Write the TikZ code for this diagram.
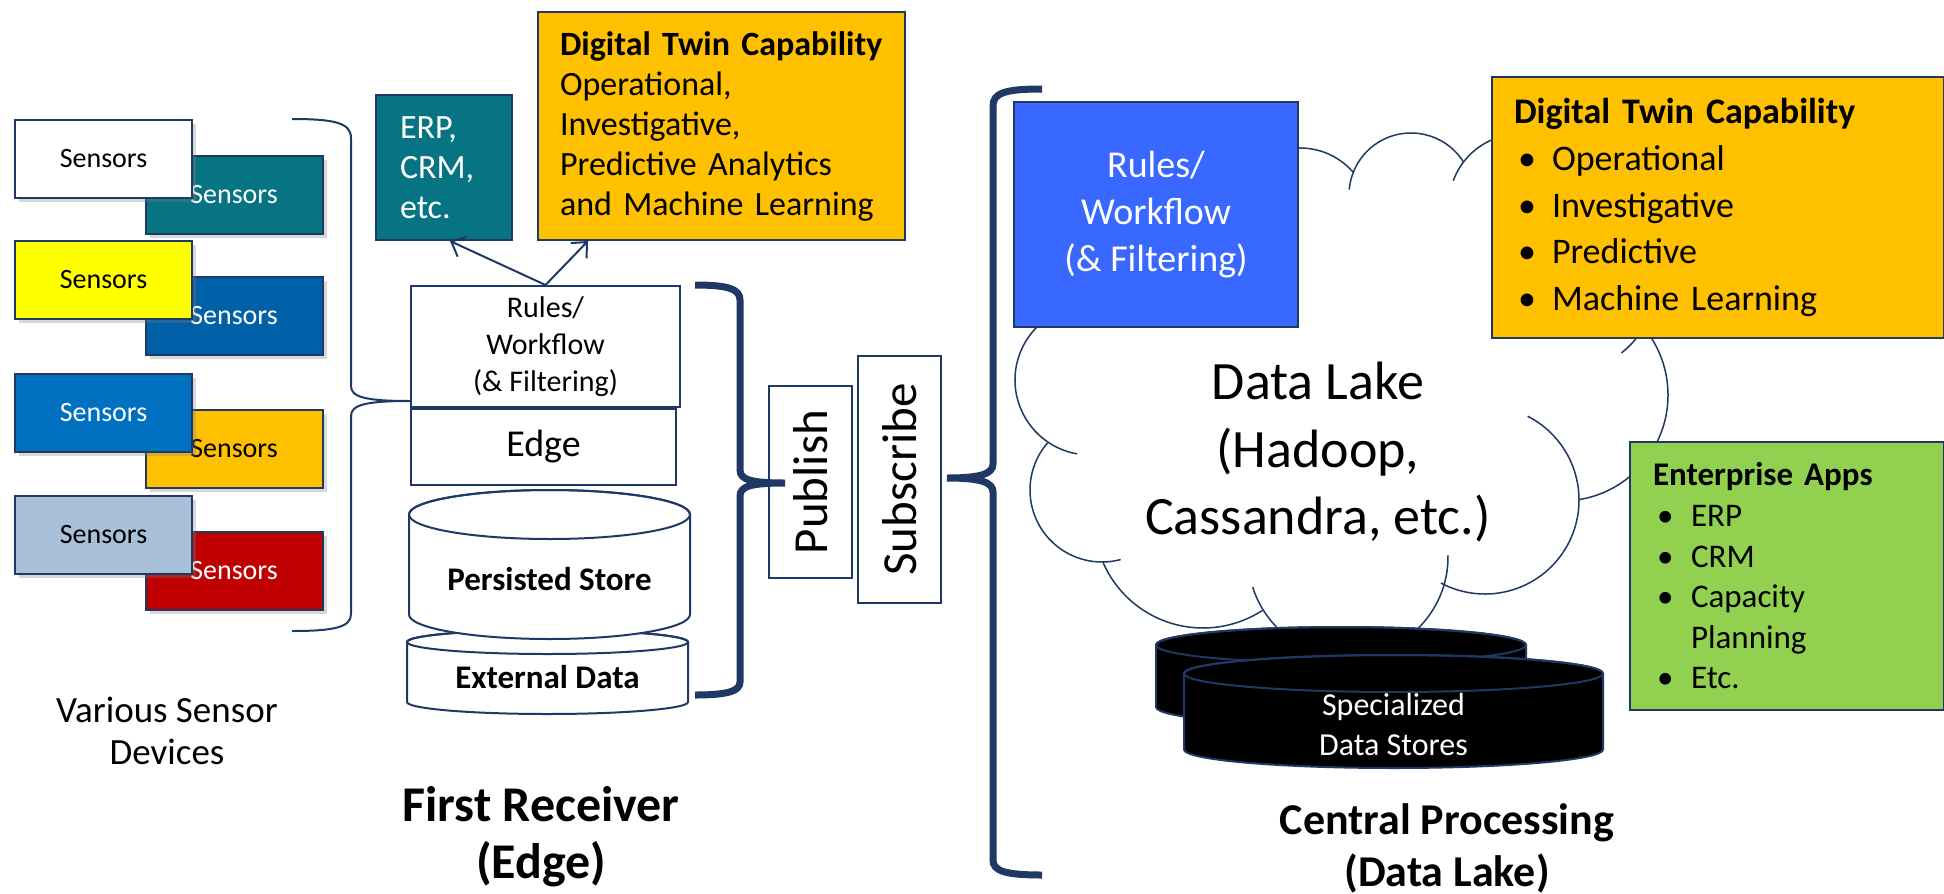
\documentclass[tikz,border=0pt]{standalone}
\usepackage{fontspec}
\setmainfont{Carlito}
\usetikzlibrary{arrows.meta,shadows}

\definecolor{navy}{HTML}{1F3864}
\definecolor{tealbox}{HTML}{077484}
\definecolor{dkblue}{HTML}{0060A8}
\definecolor{gold}{HTML}{FFC000}
\definecolor{darkred}{HTML}{C00000}
\definecolor{midblue}{HTML}{0070C0}
\definecolor{paleblue}{HTML}{A9C0D9}
\definecolor{brightyellow}{HTML}{FFFF00}
\definecolor{rulesblue}{HTML}{3868FF}
\definecolor{appgreen}{HTML}{92D050}

\newcommand{\fsz}[2]{\fontsize{#1}{#2}\selectfont}
\newcommand{\bulitem}{\hspace*{2pt}\makebox[17pt][l]{\textbullet}}

\tikzset{
  box/.style={draw=navy, line width=1pt, rectangle, inner sep=0pt},
  sensor/.style={box, minimum width=88.5pt, minimum height=39pt, font=\fsz{14}{16},
    drop shadow={shadow xshift=2pt, shadow yshift=-2pt, opacity=0.3}},
  infobox/.style={box, anchor=north west, align=left, inner xsep=#1},
  brace/.style={draw=navy, line width=#1},
  puff/.style={draw=navy, line width=0.75pt},
  store/.style={draw=navy, line width=1pt},
  caption/.style={align=center, inner sep=0pt},
}

\begin{document}
\begin{tikzpicture}[x=0.5pt, y=-0.5pt, >={Straight Barb[length=6pt,width=11pt]}]
  \fill[white] (0,0) rectangle (1944,894);
  \useasboundingbox (0,0) rectangle (1944,894);

  % sensor devices
  \node[sensor, fill=tealbox, text=white] (sb1) at (234,195) {Sensors};
  \node[sensor, fill=dkblue, text=white]  (sb2) at (234,316) {Sensors};
  \node[sensor, fill=gold]                (sb3) at (234,449) {Sensors};
  \node[sensor, fill=darkred, text=white] (sb4) at (234,571) {Sensors};
  \node[sensor, fill=white]               (sf1) at (103.5,159) {Sensors};
  \node[sensor, fill=brightyellow]        (sf2) at (103.5,280) {Sensors};
  \node[sensor, fill=midblue, text=white] (sf3) at (103.5,412.5) {Sensors};
  \node[sensor, fill=paleblue]            (sf4) at (103.5,535) {Sensors};

  \node[caption, font=\fsz{18.5}{21}] (devices) at (167,731) {Various Sensor\\Devices};

  % first receiver
  \node[box, minimum width=134.5pt, minimum height=60.5pt, align=center, font=\fsz{15}{18.5}]
    (rules) at (545.5,346.5) {Rules/\\Workflow\\(\& Filtering)};
  \node[box, minimum width=132.5pt, minimum height=38pt, font=\fsz{19}{22}] (edge) at (543.5,447) {Edge};

  \draw[store, fill=white] (407,642) -- (407,702)
    arc[start angle=180, end angle=0, x radius=140.5, y radius=12] -- (688,642)
    arc[start angle=0, end angle=-180, x radius=140.5, y radius=12] -- cycle;
  \draw[store] (547.5,642) ellipse[x radius=140.5, y radius=12];
  \draw[store, fill=white] (409,514.5) -- (409,614.5)
    arc[start angle=180, end angle=0, x radius=140.5, y radius=24.5] -- (690,514.5)
    arc[start angle=0, end angle=-180, x radius=140.5, y radius=24.5] -- cycle;
  \draw[store] (549.5,514.5) ellipse[x radius=140.5, y radius=24.5];
  \node[font=\bfseries\fsz{16.5}{20}] (persist) at (549.5,579) {Persisted Store};
  \node[font=\bfseries\fsz{16.5}{20}] (extdata) at (547.5,677) {External Data};

  \node[infobox=12pt, fill=tealbox, text=white, minimum width=68pt, minimum height=72.5pt,
    text width=44pt, font=\fsz{17}{20}] (erp) at (375,94) {ERP,\\CRM,\\etc.};
  \node[infobox=11pt, fill=gold, minimum width=183.5pt, minimum height=114pt,
    text width=161.5pt, font=\fsz{17}{20}] (twinedge) at (537,11)
    {\textbf{Digital Twin Capability}\\Operational,\\Investigative,\\Predictive Analytics\\and Machine Learning};

  \draw[->, navy, line width=1pt] (rules.north) -- ([xshift=3pt]erp.south);
  \draw[->, navy, line width=1pt] (rules.north) -- ([xshift=25.5pt]twinedge.south west);

  \draw[brace=1pt] (292,119) .. controls (335,119) and (351,123) .. (351,138) -- (351,386)
    .. controls (351,397) and (365,401) .. (410,401)
    .. controls (365,401) and (351,405) .. (351,416) -- (351,614)
    .. controls (351,627) and (335,631) .. (292,631);

  % publish / subscribe
  \node[box, line width=0.9pt, minimum width=96pt, minimum height=41.5pt, rotate=90,
    font=\fsz{24.5}{28}] (pub) at (810.5,482) {Publish};
  \node[box, line width=0.9pt, minimum width=123.5pt, minimum height=41.5pt, rotate=90,
    font=\fsz{24.5}{28}] (sub) at (899.5,479.5) {Subscribe};

  \draw[brace=3.5pt] (695,285) .. controls (728,285) and (740,289) .. (740,300) -- (740,470)
    .. controls (740,480) and (752,483) .. (785,483)
    .. controls (752,483) and (740,486) .. (740,496) -- (740,682)
    .. controls (740,691) and (728,695) .. (695,695);
  \draw[brace=3.5pt] (1042,89) .. controls (1005,89) and (993,93) .. (993,106) -- (993,464)
    .. controls (993,474) and (980,478) .. (947,478)
    .. controls (980,478) and (993,482) .. (993,492) -- (993,860)
    .. controls (993,871) and (1005,875) .. (1042,875);

  % central processing
  \foreach \cx/\cy/\r/\a/\b in {1090/380/75/250/100, 1102/490/72/221/75, 1203/519/109/157/57,
      1348/557/100/162.5/-1, 1485/500/94/118/-63, 1562/395/106/81/-40, 1566/282/90/-30/52,
      1520/205/71/300/200, 1411/195/62/328/185, 1300/218.5/70.5/200/319}
    \draw[puff] (\cx,\cy) ++(\a:\r) arc[start angle=\a, end angle=\b, radius=\r];

  \draw[store, fill=black] (1156,645) -- (1156,707)
    arc[start angle=180, end angle=0, x radius=185, y radius=18] -- (1526,645)
    arc[start angle=0, end angle=-180, x radius=185, y radius=18] -- cycle;
  \draw[store] (1341,645) ellipse[x radius=185, y radius=18];
  \draw[store, fill=black] (1184,673.5) -- (1184,749.5)
    arc[start angle=180, end angle=0, x radius=209.5, y radius=18.5] -- (1603,673.5)
    arc[start angle=0, end angle=-180, x radius=209.5, y radius=18.5] -- cycle;
  \draw[store] (1393.5,673.5) ellipse[x radius=209.5, y radius=18.5];
  \node[text=white, align=center, font=\fsz{16}{20}] (special) at (1393.5,724) {Specialized\\Data Stores};

  \node[box, fill=rulesblue, text=white, minimum width=142pt, minimum height=112.5pt, align=center,
    font=\fsz{19}{23.5}] (lakerules) at (1156,214.5) {Rules/\\Workflow\\(\& Filtering)};

  \node[align=center, font=\fsz{27}{33.75}] (lake) at (1318,452) {Data Lake\\(Hadoop,\\Cassandra, etc.)};

  \node[infobox=11pt, fill=gold, minimum width=226pt, minimum height=130.5pt, text width=204pt,
    font=\fsz{18}{23.4}] (twinlake) at (1491,76)
    {\textbf{Digital Twin Capability}\\\bulitem Operational\\\bulitem Investigative\\\bulitem Predictive\\\bulitem Machine Learning};
  \node[infobox=11.5pt, fill=appgreen, minimum width=157pt, minimum height=134pt, text width=134pt,
    font=\fsz{16.5}{20.3}] (apps) at (1629,441)
    {\textbf{Enterprise Apps}\\\bulitem ERP\\\bulitem CRM\\\bulitem Capacity\\\hspace*{19pt}Planning\\\bulitem Etc.};

  \node[caption, font=\bfseries\fsz{25}{28.5}] (receiver) at (541,837) {First Receiver\\(Edge)};
  \node[caption, font=\bfseries\fsz{22}{26}] (central) at (1447,848) {Central Processing\\(Data Lake)};
\end{tikzpicture}
\end{document}
